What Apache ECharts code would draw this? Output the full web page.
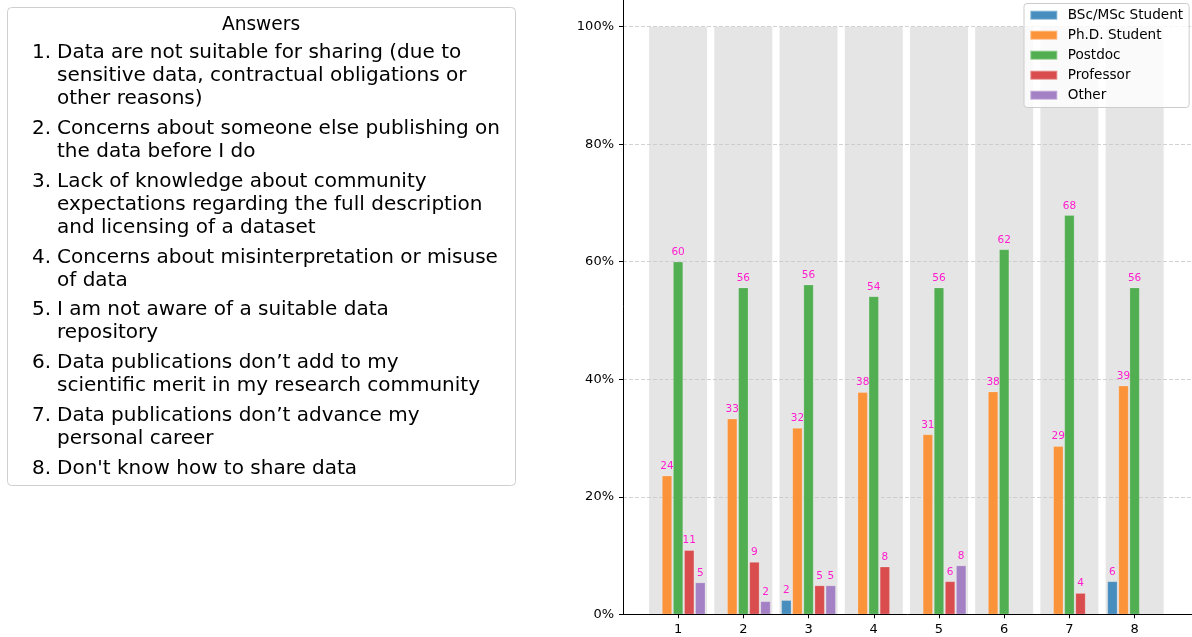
<!DOCTYPE html>
<html>
<head>
<meta charset="utf-8">
<script src="https://cdn.jsdelivr.net/npm/echarts@6/dist/echarts.min.js"></script>
<style>
html, body { margin: 0; padding: 0; background: #fff; }
#main { width: 1192px; height: 637px; }
</style>
</head>
<body>
<div id="main"></div>
<script>
// answer numbers on the x axis
var categories = [1, 2, 3, 4, 5, 6, 7, 8];
var seriesNames = ['BSc/MSc Student', 'Ph.D. Student', 'Postdoc', 'Professor', 'Other'];
// share of each group (%) giving each answer
var bscMsc = [0, 0, 2.4, 0, 0, 0, 0, 5.6];
var phd = [23.6, 33.3, 31.7, 37.8, 30.6, 37.9, 28.6, 38.9];
var postdoc = [60.0, 55.6, 56.1, 54.1, 55.6, 62.1, 67.9, 55.6];
var professor = [10.9, 8.9, 4.9, 8.1, 5.6, 0, 3.6, 0];
var other = [5.4, 2.2, 4.9, 0, 8.3, 0, 0, 0];
// grey band behind each answer (full scale)
var fullScale = [100, 100, 100, 100, 100, 100, 100, 100];
var yTicks = [0, 20, 40, 60, 80, 100];

var answers = [
    ['Data are not suitable for sharing (due to', 'sensitive data, contractual obligations or', 'other reasons)'],
    ['Concerns about someone else publishing on', 'the data before I do'],
    ['Lack of knowledge about community', 'expectations regarding the full description', 'and licensing of a dataset'],
    ['Concerns about misinterpretation or misuse', 'of data'],
    ['I am not aware of a suitable data', 'repository'],
    ['Data publications don\u2019t add to my', 'scientific merit in my research community'],
    ['Data publications don\u2019t advance my', 'personal career'],
    ["Don't know how to share data"]
];

var colors = ['#478dbe', '#fa9339', '#51ae51', '#d94d4e', '#a480c5'];
var font = 'DejaVu Sans';

var chart = echarts.init(document.getElementById('main'), null, { renderer: 'canvas' });

function pairs(values) {
    return categories.map(function (c, i) { return [c, values[i]]; });
}

// left text box with the list of answers
var graphics = [
    {
        type: 'rect',
        shape: { x: 7.5, y: 7.5, width: 508, height: 478, r: 4 },
        style: { fill: '#fff', stroke: '#cfcfcf', lineWidth: 1 }
    },
    {
        type: 'text', x: 261, y: 25,
        style: { text: 'Answers', fontSize: 18.6, fontFamily: font, fill: '#000', align: 'center', verticalAlign: 'middle' }
    }
];
var lineH = 23, itemGap = 6.8, lineY = 53;
answers.forEach(function (lines, i) {
    graphics.push({
        type: 'text', x: 32, y: lineY - lineH / 2,
        style: { text: (i + 1) + '.', fontSize: 20, fontFamily: font, fill: '#000', lineHeight: lineH, verticalAlign: 'top' }
    });
    graphics.push({
        type: 'text', x: 57, y: lineY - lineH / 2,
        style: { text: lines.join('\n'), fontSize: 20, fontFamily: font, fill: '#000', lineHeight: lineH, verticalAlign: 'top' }
    });
    lineY += lines.length * lineH + itemGap;
});

var groupData = [bscMsc, phd, postdoc, professor, other];

var series = [{
    name: 'band',
    type: 'bar',
    xAxisIndex: 1,
    data: pairs(fullScale),
    barWidth: 58,
    itemStyle: { color: '#e5e5e5' },
    silent: true,
    z: 1
}];
groupData.forEach(function (values, i) {
    series.push({
        name: seriesNames[i],
        type: 'bar',
        data: pairs(values),
        barWidth: 10,
        barGap: '11%',
        itemStyle: { color: colors[i], borderColor: 'rgba(255,255,255,0.35)', borderWidth: 0.6 },
        z: 3,
        label: {
            show: true,
            position: 'top',
            distance: 4,
            color: '#ff1dce',
            fontSize: 10.5,
            fontFamily: font,
            formatter: function (p) {
                return p.value[1] > 0 ? String(Math.round(p.value[1])) : '';
            }
        }
    });
});

var option = {
    animation: false,
    textStyle: { fontFamily: font },
    graphic: graphics,
    grid: {
        left: 623,
        right: 0,
        top: -2.7,
        bottom: 22.7,
        containLabel: false,
        outerBoundsMode: 'none'
    },
    legend: {
        data: seriesNames,
        orient: 'vertical',
        left: 1024,
        top: 3.5,
        icon: 'rect',
        itemWidth: 27,
        itemHeight: 9,
        itemGap: 6,
        padding: [4.7, 6, 5.3, 5.3],
        backgroundColor: 'rgba(255,255,255,0.8)',
        borderColor: '#cccccc',
        borderWidth: 1,
        borderRadius: 3,
        z: 10,
        textStyle: { fontSize: 13.6, fontFamily: font, color: '#000', lineHeight: 14, padding: [0, 0, 0, 5.4] }
    },
    xAxis: [{
        type: 'value',
        min: 0.155,
        max: 8.88,
        z: 4,
        axisLine: { show: true, onZero: false, lineStyle: { color: '#000', width: 1 } },
        axisTick: { show: true, length: 4, customValues: categories, lineStyle: { color: '#000' } },
        axisLabel: { customValues: categories, margin: 9, fontSize: 13, fontFamily: font, color: '#000' },
        splitLine: { show: false }
    }, {
        type: 'value',
        min: 0.155,
        max: 8.88,
        show: false,
        splitLine: { show: false }
    }],
    yAxis: {
        type: 'value',
        min: 0,
        max: 105,
        interval: 20,
        z: 2,
        axisLine: { show: true, lineStyle: { color: '#000', width: 1 } },
        axisTick: { show: true, length: 4, lineStyle: { color: '#000' } },
        axisLabel: {
            margin: 9, fontSize: 13, fontFamily: font, color: '#000',
            formatter: function (v) { return yTicks.indexOf(v) >= 0 ? v + '%' : ''; }
        },
        splitLine: { show: true, lineStyle: { color: '#c6c6c6', width: 0.8, type: [4, 2] } }
    },
    series: series
};

chart.setOption(option);
</script>
</body>
</html>
